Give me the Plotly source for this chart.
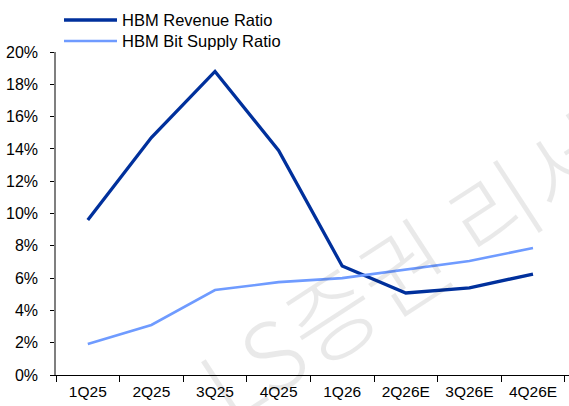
import plotly.graph_objects as go

categories = ["1Q25", "2Q25", "3Q25", "4Q25", "1Q26", "2Q26E", "3Q26E", "4Q26E"]
revenue_ratio = [9.6, 14.7, 18.8, 13.9, 6.75, 5.08, 5.4, 6.25]
bit_supply_ratio = [1.92, 3.1, 5.26, 5.75, 6.0, 6.55, 7.06, 7.86]
y_ticks = [0, 2, 4, 6, 8, 10, 12, 14, 16, 18, 20]
series_names = ["HBM Revenue Ratio", "HBM Bit Supply Ratio"]
series_colors = ["#00309c", "#6f9bff"]
series_widths = [3.3, 2.6]

W, H = 569, 406
ml, mr, mt, mb = 56, 0, 52, 31
pw, ph = W - ml - mr, H - mt - mb


def px_x(x):
    return (x - ml) / pw


def px_y(y):
    return 1 - (y - mt) / ph


fig = go.Figure()
for name, vals, col, lw in zip(series_names, [revenue_ratio, bit_supply_ratio],
                               series_colors, series_widths):
    fig.add_trace(go.Scatter(x=categories, y=vals, mode="lines", name=name,
                             line=dict(color=col, width=lw)))

# manual legend
shapes = []
annotations = []
legend_rows_y = [20, 41]
for name, col, lw, yy in zip(series_names, series_colors, series_widths, legend_rows_y):
    shapes.append(dict(type="line", xref="paper", yref="paper",
                       x0=px_x(64), x1=px_x(117), y0=px_y(yy), y1=px_y(yy),
                       line=dict(color=col, width=lw)))
    annotations.append(dict(text=name, xref="paper", yref="paper",
                            x=px_x(120), y=px_y(yy), xanchor="left", yanchor="middle",
                            showarrow=False,
                            font=dict(size=16.5, color="black")))

annotations.append(dict(text="LS증권 리서치", xref="paper", yref="paper",
                        x=px_x(440), y=px_y(240), xanchor="center", yanchor="middle",
                        showarrow=False, textangle=-33,
                        font=dict(family="Noto Sans CJK KR", size=94, weight=300,
                                  color="rgba(0,0,0,0.085)")))

fig.update_layout(
    width=W, height=H,
    margin=dict(l=ml, r=mr, t=mt, b=mb),
    paper_bgcolor="white", plot_bgcolor="rgba(0,0,0,0)",
    font=dict(family="Liberation Sans, Arial, sans-serif", size=16, color="black"),
    showlegend=False,
    shapes=shapes,
    annotations=annotations,
)
fig.update_xaxes(type="category", range=[-0.5, 7.566], showline=True, linecolor="black",
                 linewidth=1, ticks="outside", ticklen=6, tickcolor="black",
                 tickson="boundaries", showgrid=False, zeroline=False,
                 tickfont=dict(size=15.5), ticklabelstandoff=2)
fig.update_yaxes(range=[0, 20], tickvals=y_ticks, ticktext=[f"{v}%" for v in y_ticks],
                 showline=True, linecolor="#7f7f7f", linewidth=1.5, ticks="outside",
                 ticklen=4, tickcolor="black", showgrid=False, zeroline=False,
                 tickfont=dict(size=16), ticklabelstandoff=9)

fig.write_html("out.html", config={"displayModeBar": False},
               post_script="document.body.style.margin='0';")
